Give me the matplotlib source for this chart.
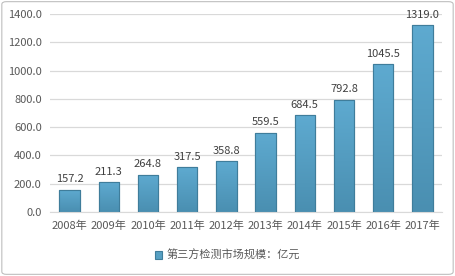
import numpy as np
import matplotlib.pyplot as plt
from matplotlib.patches import Rectangle, FancyBboxPatch
from matplotlib.colors import LinearSegmentedColormap

plt.rcParams['font.family'] = ['Noto Sans CJK SC', 'DejaVu Sans']

years = ['2008年', '2009年', '2010年', '2011年', '2012年',
         '2013年', '2014年', '2015年', '2016年', '2017年']
values = [157.2, 211.3, 264.8, 317.5, 358.8, 559.5, 684.5, 792.8, 1045.5, 1319.0]
legend_label = '第三方检测市场规模：亿元'

text_color = '#595959'
fig = plt.figure(figsize=(4.55, 2.76), dpi=100)
ax = fig.add_axes([50 / 455, 64 / 276, 392 / 455, 198 / 276])

x = np.arange(len(years))
bars = ax.bar(x, values, width=0.52, color='#57a0c3', edgecolor='#3f7d9b',
              linewidth=0.8, label=legend_label, zorder=2)

# vertical gradient inside each bar
cmap = LinearSegmentedColormap.from_list('g', ['#4a8fb1', '#5eaad0'])
grad = np.linspace(0, 1, 100).reshape(-1, 1)
for b in bars:
    bx, by, bw, bh = b.get_x(), b.get_y(), b.get_width(), b.get_height()
    im = ax.imshow(grad, cmap=cmap, origin='lower', aspect='auto',
                   extent=(bx, bx + bw, by, by + bh), zorder=2.5)
    im.set_clip_path(b)
    ax.add_patch(Rectangle((bx, by), bw, bh, fill=False, edgecolor='#3f7d9b',
                           linewidth=0.8, zorder=3))

for xi, v in zip(x, values):
    ax.annotate(f'{v:.1f}', (xi, v), xytext=(0, 4), textcoords='offset points',
                ha='center', va='bottom', fontsize=8, color='#404040')

ax.set_xlim(-0.5, len(years) - 0.5)
ax.set_ylim(0, 1400)
ax.set_yticks(np.arange(0, 1401, 200))
ax.set_yticklabels([f'{t:.1f}' for t in np.arange(0, 1401, 200)])
ax.set_xticks(x)
ax.set_xticklabels(years)
ax.tick_params(axis='both', length=0, labelsize=8, colors=text_color, pad=6)
ax.grid(axis='y', color='#d9d9d9', linewidth=0.9, zorder=0)
for s in ['top', 'right', 'left']:
    ax.spines[s].set_visible(False)
ax.spines['bottom'].set_color('#d9d9d9')

handles, labels = ax.get_legend_handles_labels()
fig.legend(handles, labels, loc='center', bbox_to_anchor=(0.5, 21 / 276),
           frameon=False, fontsize=8, handlelength=0.7, handleheight=0.7,
           handletextpad=0.4, labelcolor=text_color)

fig.patches.append(FancyBboxPatch((0.004, 0.006), 0.992, 0.988,
                                  boxstyle='round,pad=0,rounding_size=0.01',
                                  transform=fig.transFigure, fill=False,
                                  edgecolor='#bfbfbf', linewidth=0.8))

fig.savefig('out.png', dpi=100)
